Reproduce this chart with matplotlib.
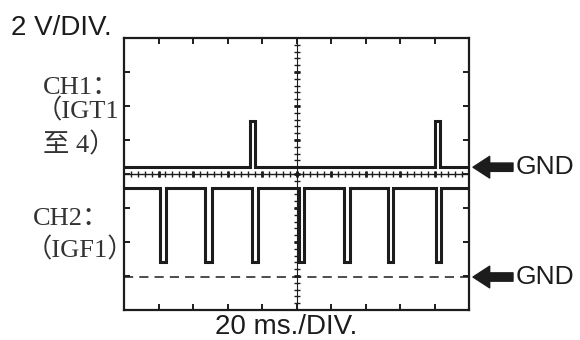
import matplotlib
matplotlib.use("Agg")
import matplotlib.pyplot as plt
import numpy as np

# scope screen: 10 x 8 divisions
n_xdiv = 10
n_ydiv = 8

# CH1 (IGT1 to 4): pulses up from its ground line
ch1_starts = [3.64, 9.00]
ch1_ends = [3.80, 9.17]
ch1_low = 4.20
ch1_high = 5.57

# CH2 (IGF1): pulses down from its high level
ch2_starts = [1.03, 2.36, 3.70, 5.06, 6.39, 7.64, 9.03]
ch2_ends = [1.23, 2.54, 3.87, 5.23, 6.54, 7.81, 9.19]
ch2_high = 3.59
ch2_low = 1.41
ch2_gnd = 0.97

ch1_label = ["CH1：", "（IGT1", "至 4）"]
ch2_label = ["CH2：", "（IGF1）"]
volt_label = "2 V/DIV."
time_label = "20 ms./DIV."

ink = "#1c1c1c"
W, H = 580, 340


def square_wave(starts, ends, base, level):
    xs = [0]
    ys = [base]
    for s, e in zip(starts, ends):
        xs += [s, s, e, e]
        ys += [base, level, level, base]
    xs.append(n_xdiv)
    ys.append(base)
    return np.array(xs), np.array(ys)


fig = plt.figure(figsize=(W / 100, H / 100), dpi=100)
ax = fig.add_axes([124 / W, 30 / H, 345 / W, 272 / H])
ax.set_xlim(0, n_xdiv)
ax.set_ylim(0, n_ydiv)

for sp in ax.spines.values():
    sp.set_linewidth(1.6)
    sp.set_color(ink)
ax.set_xticks(np.arange(1, n_xdiv))
ax.set_yticks(np.arange(1, n_ydiv))
ax.tick_params(direction="in", length=4, width=1.4, color=ink,
               top=True, right=True, labelleft=False, labelbottom=False)

# centre graticule with small ticks
cx, cy = n_xdiv / 2, n_ydiv / 2
ax.axhline(cy, color=ink, lw=1.0)
ax.axvline(cx, color=ink, lw=0.8)
minor_x = np.arange(0.2, n_xdiv, 0.2)
minor_y = np.arange(0.2, n_ydiv, 0.2)
ax.plot(minor_x, np.full_like(minor_x, cy), ls="none", marker="|",
        ms=5, mew=1.0, color=ink)
ax.plot(np.full_like(minor_y, cx), minor_y, ls="none", marker="_",
        ms=5, mew=1.0, color=ink)
ax.plot(np.arange(1, n_xdiv), np.full(n_xdiv - 1, cy), ls="none",
        marker="|", ms=5, mew=2.0, color=ink)
ax.plot(np.full(n_ydiv - 1, cx), np.arange(1, n_ydiv), ls="none",
        marker="_", ms=5, mew=2.0, color=ink)

# traces
x1, y1 = square_wave(ch1_starts, ch1_ends, ch1_low, ch1_high)
ax.plot(x1, y1, color=ink, lw=2.2, solid_joinstyle="miter")
x2, y2 = square_wave(ch2_starts, ch2_ends, ch2_high, ch2_low)
ax.plot(x2, y2, color=ink, lw=2.2, solid_joinstyle="miter")
ax.axhline(ch2_gnd, color=ink, lw=1.1, dashes=(6, 4))

# GND markers on the right
for g in [ch1_low, ch2_gnd]:
    yd = ax.transData.transform((0, g))[1]
    ax.annotate("", xy=(473, yd), xytext=(513, yd), xycoords="figure pixels",
                textcoords="figure pixels",
                arrowprops=dict(arrowstyle="simple,head_length=1.0,head_width=1.3,tail_width=0.5",
                                mutation_scale=12, color=ink, shrinkA=0, shrinkB=0))
    fig.text(516 / W, yd / H, "GND", fontsize=19, family="Liberation Sans",
             color=ink, va="center", ha="left")

fig.text(11 / W, 1 - 35 / H, volt_label, fontsize=20, family="Liberation Sans",
         color=ink, va="baseline")
fig.text(215 / W, 1 - 334 / H, time_label, fontsize=20, family="Liberation Sans",
         color=ink, va="baseline")

serif = ["Liberation Serif", "Noto Sans CJK SC"]
for txt, x, yb in zip(ch1_label, [43, 36, 43], [94, 118, 152]):
    fig.text(x / W, 1 - yb / H, txt, fontsize=19, family=serif, color="#333333",
             va="baseline")
for txt, x, yb in zip(ch2_label, [33, 26], [225, 257]):
    fig.text(x / W, 1 - yb / H, txt, fontsize=19, family=serif, color="#333333",
             va="baseline")

fig.savefig("out.png", dpi=100)
